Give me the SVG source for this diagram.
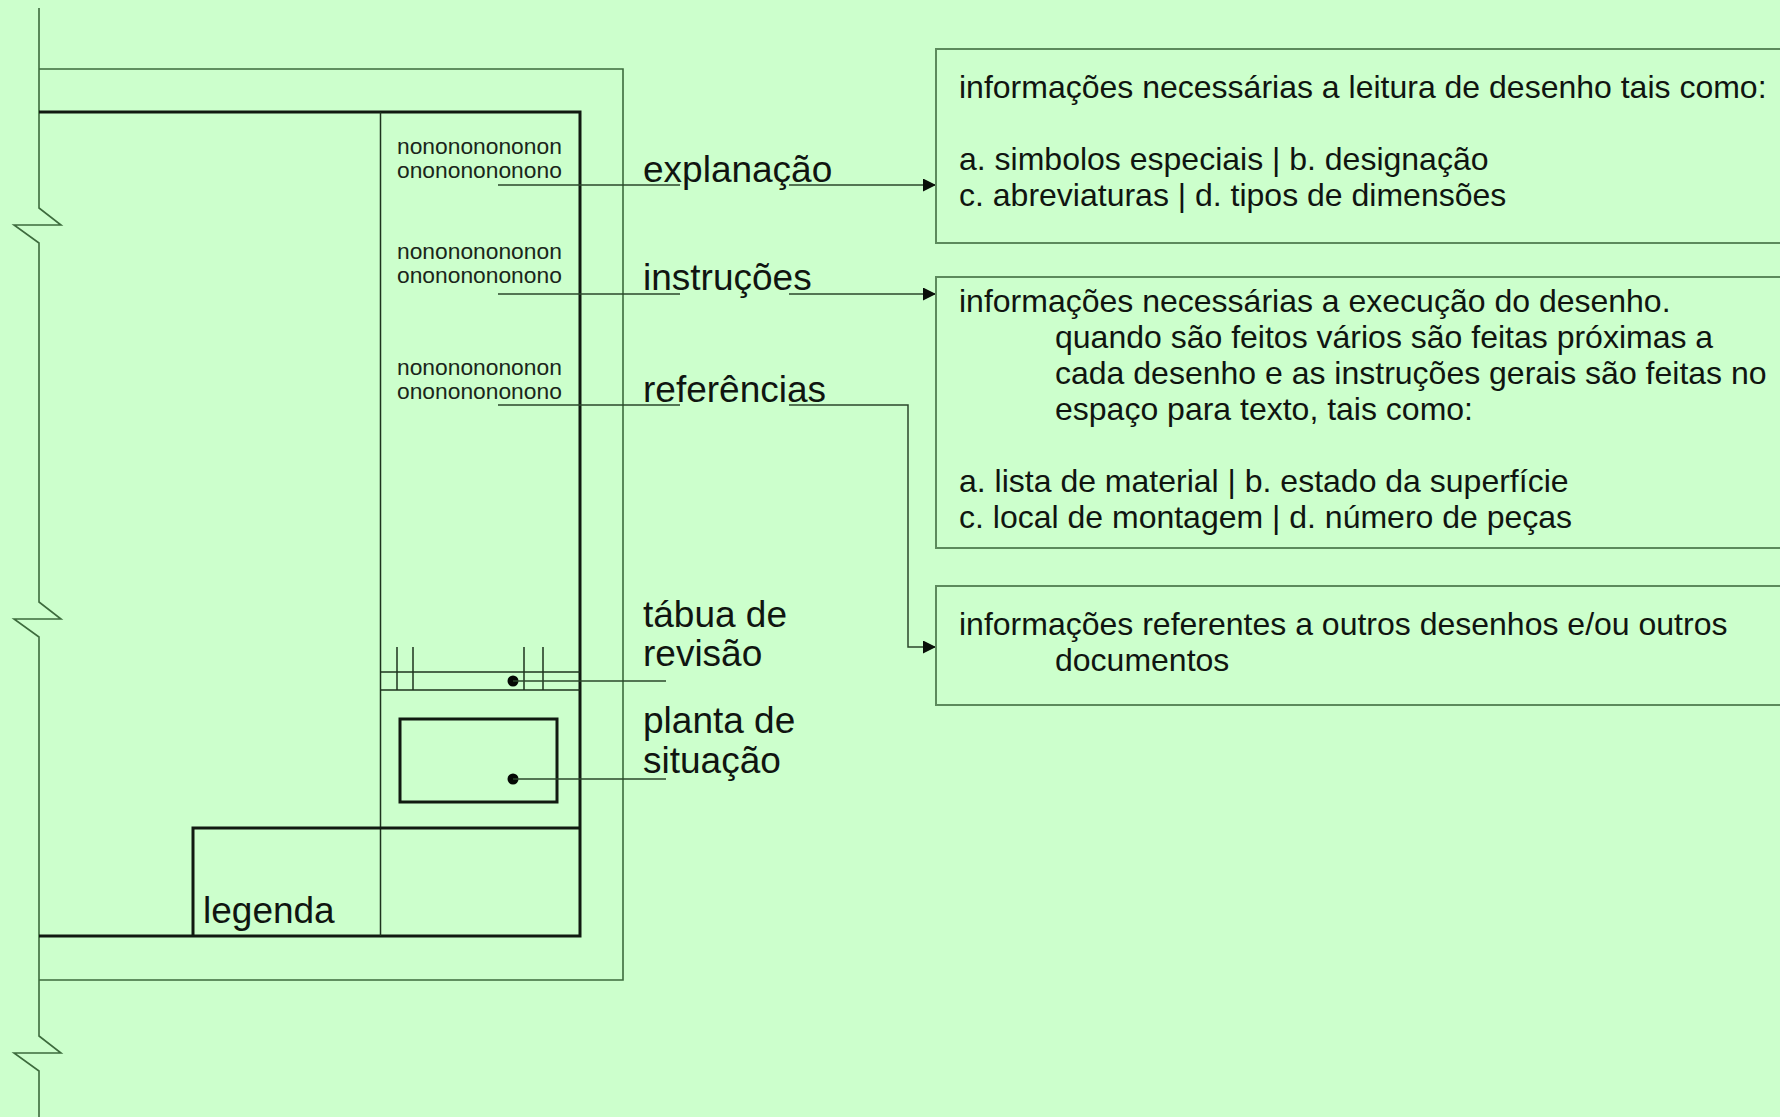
<svg xmlns="http://www.w3.org/2000/svg" width="1780" height="1117" viewBox="0 0 1780 1117">
<style>
  .bg{fill:#ccffcc}
  .edge{fill:none;stroke:#3d6b3d;stroke-width:1.6}
  .thin{fill:none;stroke:#1e331e;stroke-width:1.5}
  .thick{fill:none;stroke:#111a11;stroke-width:3}
  .box{fill:none;stroke:#5c8a5c;stroke-width:2}
  .lead{fill:none;stroke:#2b472b;stroke-width:1.5}
  .dot{fill:#050805}
  text{font-family:"Liberation Sans",Arial,Helvetica,sans-serif;fill:#101510}
  .small{font-size:22.8px;fill:#1a261a}
  .label{font-size:37px}
  .body{font-size:32px}
</style>
<defs>
  <marker id="arr" markerUnits="userSpaceOnUse" markerWidth="14" markerHeight="14" refX="13" refY="6.5" orient="auto">
    <path d="M0,0 L13,6.5 L0,13 Z" fill="#0a0f0a"/>
  </marker>
</defs>
<rect class="bg" x="0" y="0" width="1780" height="1117"/>

<g id="sheet">
  <polyline class="edge" points="39,8 39,208 61,225 14,225 39,243 39,602 61,619 14,619 39,637 39,1036 61,1053 14,1053 39,1071 39,1117"/>
  <polyline class="edge" points="39,69 623,69 623,980 39,980"/>
  <polyline class="thick" points="39,112 580,112 580,936 39,936"/>
  <line class="thin" x1="380.5" y1="112" x2="380.5" y2="936"/>
  <polyline class="thick" points="193,936 193,828 580,828"/>
  <g id="revision-table">
    <line class="thin" x1="380" y1="672" x2="580" y2="672"/>
    <line class="thin" x1="380" y1="690" x2="580" y2="690"/>
    <line class="thin" x1="397" y1="647" x2="397" y2="690"/>
    <line class="thin" x1="413" y1="647" x2="413" y2="690"/>
    <line class="thin" x1="524" y1="647" x2="524" y2="690"/>
    <line class="thin" x1="543" y1="647" x2="543" y2="690"/>
    <circle class="dot" cx="513" cy="681" r="5.5"/>
  </g>
  <g id="situation-plan">
    <rect class="thick" x="400" y="719" width="157" height="83"/>
    <circle class="dot" cx="513" cy="779" r="5.5"/>
  </g>
  <g id="title-texts">
    <text class="small" x="397" y="154">nonononononon</text>
    <text class="small" x="397" y="178">onononononono</text>
    <text class="small" x="397" y="259">nonononononon</text>
    <text class="small" x="397" y="283">onononononono</text>
    <text class="small" x="397" y="375">nonononononon</text>
    <text class="small" x="397" y="399">onononononono</text>
  </g>
  <text id="legenda" class="label" x="203" y="923">legenda</text>
</g>

<g id="connectors">
  <line class="lead" x1="498" y1="185" x2="680" y2="185"/>
  <line class="lead" x1="789" y1="185" x2="936" y2="185" marker-end="url(#arr)"/>
  <line class="lead" x1="498" y1="294" x2="680" y2="294"/>
  <line class="lead" x1="789" y1="294" x2="936" y2="294" marker-end="url(#arr)"/>
  <line class="lead" x1="498" y1="405" x2="680" y2="405"/>
  <polyline class="lead" points="789,405 908,405 908,647 936,647" marker-end="url(#arr)"/>
  <line class="lead" x1="513" y1="681" x2="666" y2="681"/>
  <line class="lead" x1="513" y1="779" x2="666" y2="779"/>
</g>

<g id="label-explanacao"><text class="label" x="643" y="182">explanação</text></g>
<g id="label-instrucoes"><text class="label" x="643" y="290">instruções</text></g>
<g id="label-referencias"><text class="label" x="643" y="402">referências</text></g>
<g id="label-tabua"><text class="label" x="643" y="627">tábua de</text><text class="label" x="643" y="666">revisão</text></g>
<g id="label-planta"><text class="label" x="643" y="733">planta de</text><text class="label" x="643" y="773">situação</text></g>

<g id="box-explanacao">
  <rect class="box" x="936" y="49" width="860" height="194"/>
  <text class="body" x="959" y="98">informações necessárias a leitura de desenho tais como:</text>
  <text class="body" x="959" y="170">a. simbolos especiais | b. designação</text>
  <text class="body" x="959" y="206">c. abreviaturas | d. tipos de dimensões</text>
</g>
<g id="box-instrucoes">
  <rect class="box" x="936" y="277" width="860" height="271"/>
  <text class="body" x="959" y="312">informações necessárias a execução do desenho.</text>
  <text class="body" x="1055" y="348">quando são feitos vários são feitas próximas a</text>
  <text class="body" x="1055" y="384">cada desenho e as instruções gerais são feitas no</text>
  <text class="body" x="1055" y="420">espaço para texto, tais como:</text>
  <text class="body" x="959" y="492">a. lista de material | b. estado da superfície</text>
  <text class="body" x="959" y="528">c. local de montagem | d. número de peças</text>
</g>
<g id="box-referencias">
  <rect class="box" x="936" y="586" width="860" height="119"/>
  <text class="body" x="959" y="635">informações referentes a outros desenhos e/ou outros</text>
  <text class="body" x="1055" y="671">documentos</text>
</g>
</svg>
